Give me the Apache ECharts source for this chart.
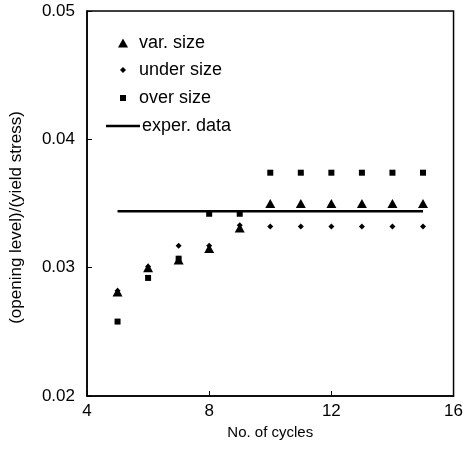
<!DOCTYPE html>
<html>
<head>
<meta charset="utf-8">
<script src="https://cdn.jsdelivr.net/npm/echarts@6/dist/echarts.min.js"></script>
<style>html,body{margin:0;padding:0;background:#fff;}#c{width:466px;height:468px;}</style>
</head>
<body>
<div id="c"></div>
<script>
var cycles = [5, 6, 7, 8, 9, 10, 11, 12, 13, 14, 15];
var varSize = [0.0281, 0.0300, 0.0306, 0.0315, 0.0331, 0.0350, 0.0350, 0.0350, 0.0350, 0.0350, 0.0350];
var underSize = [0.0282, 0.0301, 0.0317, 0.0317, 0.0333, 0.0332, 0.0332, 0.0332, 0.0332, 0.0332, 0.0332];
var overSize = [0.0258, 0.0292, 0.0307, 0.0342, 0.0342, 0.0374, 0.0374, 0.0374, 0.0374, 0.0374, 0.0374];
var experX = [5, 15];
var experY = [0.0344, 0.0344];
var xTicks = [4, 8, 12, 16];
var yTicks = [0.02, 0.03, 0.04, 0.05];

function pairs(xs, ys) { return xs.map(function (x, i) { return [x, ys[i]]; }); }

var FONT = '"Liberation Sans", Arial, sans-serif';
var chart = echarts.init(document.getElementById('c'));
function lt(pad) { return { fontSize: 18, color: '#000', fontFamily: FONT, padding: [0, 0, 0, pad] }; }
chart.setOption({
  animation: false,
  backgroundColor: '#fff',
  grid: { left: 86, right: 12, top: 11, bottom: 72, show: true, borderColor: '#000', borderWidth: 1.5, backgroundColor: 'transparent' },
  legend: [
    { data: ['var. size'], orient: 'vertical', left: 118, top: 34, padding: 0, itemWidth: 10, itemHeight: 9, icon: 'triangle', selectedMode: false, textStyle: lt(6), itemStyle: { opacity: 1 } },
    { data: ['under size'], orient: 'vertical', left: 120, top: 61, padding: 0, itemWidth: 6, itemHeight: 6, icon: 'diamond', selectedMode: false, textStyle: lt(8), itemStyle: { opacity: 1 } },
    { data: ['over size'], orient: 'vertical', left: 120, top: 89, padding: 0, itemWidth: 6, itemHeight: 6, icon: 'rect', selectedMode: false, textStyle: lt(8), itemStyle: { opacity: 1 } },
    { data: ['exper. data'], orient: 'vertical', left: 106, top: 117, padding: 0, itemWidth: 34, itemHeight: 2.5, icon: 'rect', selectedMode: false, textStyle: lt(-3), itemStyle: { opacity: 1 } }
  ],
  xAxis: {
    type: 'value', min: xTicks[0], max: xTicks[xTicks.length - 1], interval: 4,
    name: 'No. of cycles', nameLocation: 'middle', nameGap: 28,
    nameTextStyle: { fontSize: 15, color: '#000', fontFamily: FONT },
    axisLine: { show: true, lineStyle: { color: '#000', width: 1.5 } },
    axisTick: { show: true, inside: true, length: 5, lineStyle: { color: '#000' } },
    axisLabel: { fontSize: 17, color: '#000', fontFamily: FONT, margin: 7 },
    splitLine: { show: false }
  },
  yAxis: {
    type: 'value', min: yTicks[0], max: yTicks[yTicks.length - 1], interval: 0.01,
    name: '(opening level)/(yield stress)', nameLocation: 'middle', nameGap: 62,
    nameTextStyle: { fontSize: 17, color: '#000', fontFamily: FONT, padding: [0, 28, 0, 0] },
    axisLine: { show: true, lineStyle: { color: '#000', width: 1.5 } },
    axisTick: { show: true, inside: true, length: 5, lineStyle: { color: '#000' } },
    axisLabel: { fontSize: 17, color: '#000', fontFamily: FONT, margin: 12, formatter: function (v) { return v.toFixed(2); } },
    splitLine: { show: false }
  },
  series: [
    { name: 'exper. data', type: 'line', data: pairs(experX, experY), symbol: 'none', lineStyle: { color: '#000', width: 2.5 }, itemStyle: { color: '#000' }, z: 1 },
    { name: 'over size', type: 'scatter', data: pairs(cycles, overSize), symbol: 'rect', symbolSize: 6, itemStyle: { color: '#000', opacity: 1 }, z: 2 },
    { name: 'var. size', type: 'scatter', data: pairs(cycles, varSize), symbol: 'triangle', symbolSize: [10, 9], itemStyle: { color: '#000', opacity: 1 }, z: 3 },
    { name: 'under size', type: 'scatter', data: pairs(cycles, underSize), symbol: 'diamond', symbolSize: 6, itemStyle: { color: '#000', opacity: 1 }, z: 4 }
  ]
});
</script>
</body>
</html>
